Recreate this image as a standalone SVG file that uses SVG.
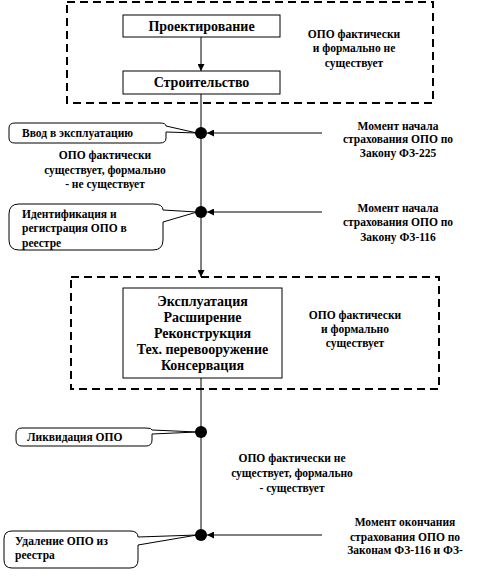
<svg xmlns="http://www.w3.org/2000/svg" width="480" height="577" viewBox="0 0 480 577">
<defs>
<marker id="ah" viewBox="0 0 10 10" refX="10" refY="5" markerWidth="7" markerHeight="7" markerUnits="userSpaceOnUse" orient="auto"><path d="M0,0 L10,5 L0,10 z" fill="#000"/></marker>
</defs>
<style>
text{font-family:"Liberation Serif","Times New Roman",serif;font-weight:bold;fill:#000}
.h{font-size:14px;text-anchor:middle}
.s{font-size:11.5px}
.c{text-anchor:middle}
.box{fill:#fff;stroke:#000;stroke-width:1}
.dash{fill:none;stroke:#000;stroke-width:2;stroke-dasharray:8,5}
.ln{stroke:#000;stroke-width:1;fill:none}
.call{fill:#fff;stroke:#000;stroke-width:1}
</style>
<rect width="480" height="577" fill="#fff"/>
<g id="frame1"><rect class="dash" x="67" y="2" width="366" height="101"/></g>
<g id="frame2"><rect class="dash" x="71" y="277" width="368" height="112"/></g>
<g id="connectors">
<line class="ln" x1="201" y1="37" x2="201" y2="71" marker-end="url(#ah)"/>
<line class="ln" x1="201" y1="94" x2="201" y2="277" marker-end="url(#ah)"/>
<line class="ln" x1="201" y1="378" x2="201" y2="535"/>
<line class="ln" x1="322" y1="133" x2="207" y2="133" marker-end="url(#ah)"/>
<line class="ln" x1="322" y1="212" x2="207" y2="212" marker-end="url(#ah)"/>
<line class="ln" x1="322" y1="535" x2="207" y2="535" marker-end="url(#ah)"/>
<circle cx="201" cy="133" r="6" fill="#000"/>
<circle cx="201" cy="212" r="6" fill="#000"/>
<circle cx="201" cy="432" r="6" fill="#000"/>
<circle cx="201" cy="535" r="6" fill="#000"/>
</g>
<g id="proekt"><rect class="box" x="123" y="15" width="157" height="22"/><text class="h" x="201.5" y="31">Проектирование</text></g>
<g id="stroit"><rect class="box" x="123" y="71" width="157" height="23"/><text class="h" x="201.5" y="87">Строительство</text></g>
<g id="note1"><text class="s c" x="354" y="38">ОПО фактически</text><text class="s c" x="354" y="52">и формально не</text><text class="s c" x="354" y="67">существует</text></g>
<g id="vvod"><path class="call" d="M15,123 H160 Q166,123 166,126 L197,133 L166,132 V138 Q166,143 160,143 H15 Q9,143 9,138 V128 Q9,123 15,123 z"/><text class="s" x="22" y="137">Ввод в эксплуатацию</text></g>
<g id="note2"><text class="s c" x="398" y="130">Момент начала</text><text class="s c" x="398" y="143">страхования ОПО по</text><text class="s c" x="398" y="157">Закону ФЗ-225</text></g>
<g id="note3"><text class="s c" x="105" y="159">ОПО фактически</text><text class="s c" x="105" y="174">существует, формально</text><text class="s c" x="105" y="188">- не существует</text></g>
<g id="ident"><path class="call" d="M19,204 H153 Q163,204 163,210 L197,212 L163,222 V240 Q163,250 153,250 H19 Q9,250 9,240 V214 Q9,204 19,204 z"/><text class="s" x="22" y="218">Идентификация и</text><text class="s" x="22" y="232">регистрация ОПО в</text><text class="s" x="22" y="247">реестре</text></g>
<g id="note4"><text class="s c" x="398" y="212">Момент начала</text><text class="s c" x="398" y="226">страхования ОПО по</text><text class="s c" x="398" y="241">Закону ФЗ-116</text></g>
<g id="expl"><rect class="box" x="123" y="288" width="159" height="90"/>
<text class="h" x="202.5" y="306">Эксплуатация</text><text class="h" x="202.5" y="322">Расширение</text><text class="h" x="202.5" y="338">Реконструкция</text><text class="h" x="202.5" y="354">Тех. перевооружение</text><text class="h" x="202.5" y="370">Консервация</text></g>
<g id="note5"><text class="s c" x="355" y="319">ОПО фактически</text><text class="s c" x="355" y="333">и формально</text><text class="s c" x="355" y="347">существует</text></g>
<g id="likv"><path class="call" d="M22,428 H146 Q152,428 152,430 L197,432 L152,434 V440 Q152,446 146,446 H22 Q16,446 16,440 V434 Q16,428 22,428 z"/><text class="s" x="27" y="441">Ликвидация ОПО</text></g>
<g id="note6"><text class="s c" x="292" y="462">ОПО фактически не</text><text class="s c" x="292" y="477">существует, формально</text><text class="s c" x="292" y="492">- существует</text></g>
<g id="udal"><path class="call" d="M12,531 H130 Q138,531 138,537 L197,535 L138,545 V560 Q138,568 130,568 H12 Q4,568 4,560 V539 Q4,531 12,531 z"/><text class="s" x="15" y="545">Удаление ОПО из</text><text class="s" x="15" y="559">реестра</text></g>
<g id="note7"><text class="s c" x="405" y="526">Момент окончания</text><text class="s c" x="405" y="541">страхования ОПО по</text><text class="s c" x="405" y="554">Законам ФЗ-116 и ФЗ-</text></g>
</svg>
